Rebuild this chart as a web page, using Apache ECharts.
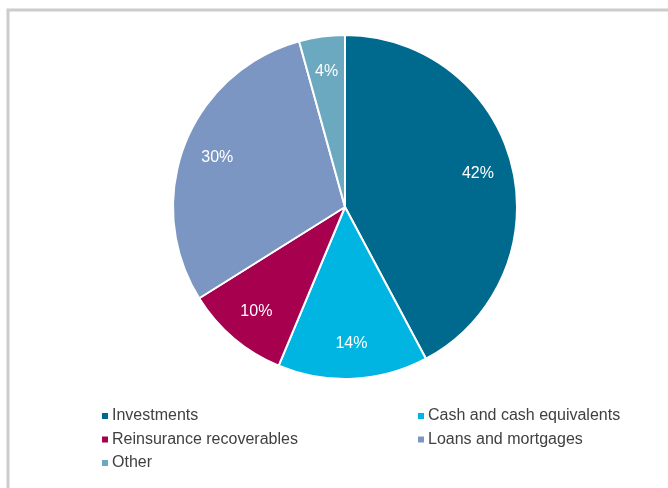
<!DOCTYPE html>
<html lang="en">
<head>
  <meta charset="UTF-8">
  <title>Asset mix</title>
  <script src="https://cdn.jsdelivr.net/npm/echarts@6/dist/echarts.min.js"></script>
  <style>
    html, body { margin: 0; padding: 0; background: #fff; }
    #container { width: 668px; height: 488px; }
  </style>
</head>
<body>
  <div id="container"></div>
  <script>
    const categories = ['Investments', 'Cash and cash equivalents', 'Reinsurance recoverables', 'Loans and mortgages', 'Other'];
    const shares = [42.2, 14.1, 9.8, 29.6, 4.3];
    const colors = ['#006a8e', '#00b5e2', '#a6004e', '#7b96c2', '#6aa9bf'];

    const leftLegend = [categories[0], categories[2], categories[4]];
    const rightLegend = [categories[1], categories[3]];

    const chart = echarts.init(document.getElementById('container'));

    const pieData = categories.map((name, i) => ({ name, value: shares[i] }));
    const font = '"Liberation Sans", Arial, sans-serif';

    const legendBase = {
      orient: 'vertical',
      top: 403,
      icon: 'rect',
      itemWidth: 8,
      itemHeight: 8,
      itemGap: 7.5,
      selectedMode: false,
      textStyle: { fontFamily: font, fontSize: 16, color: '#404040', lineHeight: 16, padding: [0, 0, 0, -2] },
    };

    const option = {
      color: colors,
      animation: false,
      graphic: [{
        type: 'rect',
        shape: { x: 8, y: 10, width: 700, height: 600 },
        style: { fill: 'none', stroke: '#cccccc', lineWidth: 3 },
        silent: true,
      }],
      legend: [
        Object.assign({}, legendBase, { left: 95, data: leftLegend }),
        Object.assign({}, legendBase, { left: 411, data: rightLegend }),
      ],
      series: [
        {
          type: 'pie',
          center: [345, 207],
          radius: [0, 172],
          startAngle: 90,
          clockwise: true,
          label: { show: false },
          labelLine: { show: false },
          itemStyle: { borderColor: '#fff', borderWidth: 2 },
          emphasis: { disabled: true },
          data: pieData,
        },
        {
          // transparent ring, only used to place the labels further out
          type: 'pie',
          center: [345, 207],
          radius: [96, 172],
          startAngle: 90,
          clockwise: true,
          silent: true,
          itemStyle: { color: 'rgba(0,0,0,0)', borderWidth: 0 },
          label: {
            show: true,
            position: 'inside',
            color: '#fff',
            fontFamily: font,
            fontSize: 16,
            formatter: (p) => Math.round(p.percent) + '%',
          },
          labelLine: { show: false },
          emphasis: { disabled: true },
          data: pieData,
        },
      ],
    };

    chart.setOption(option);
  </script>
</body>
</html>
